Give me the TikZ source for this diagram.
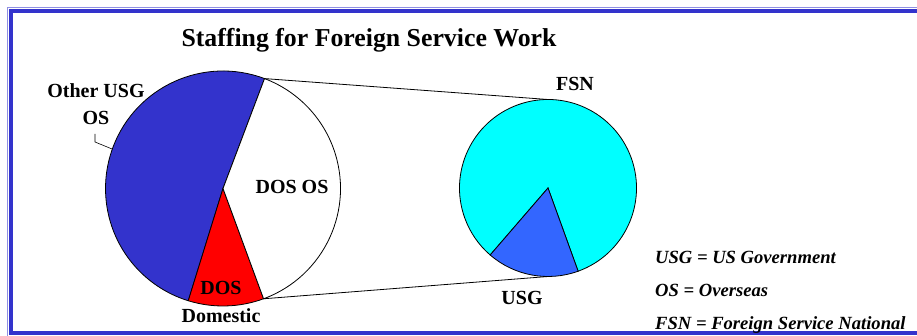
\documentclass[tikz,border=0pt]{standalone}
\usepackage{fontspec}
\setmainfont{Liberation Serif}

\definecolor{frameblue}{HTML}{3333CC}
\definecolor{osblue}{HTML}{3333CC}
\definecolor{domred}{HTML}{FF0000}
\definecolor{fsncyan}{HTML}{00FFFF}
\definecolor{usgblue}{HTML}{3366FF}

\begin{document}
\begin{tikzpicture}[x=1pt,y=1pt,
    slice/.style={draw=black, line width=0.8pt},
    lbl/.style={font=\fontsize{20}{22}\selectfont\bfseries, inner sep=0pt, anchor=base},
    legend/.style={font=\fontsize{18.6}{20}\selectfont\bfseries\itshape, inner sep=0pt, anchor=base west}]
    \useasboundingbox (0,0) rectangle (917,335);

    % Frame
    \draw[frameblue!55, line width=1.2pt] (7.5,-5) rectangle (940,327.5);
    \draw[frameblue, line width=4pt] (11,2) rectangle (940,324);

    % Title
    \node[lbl, font=\fontsize{25.8}{28}\selectfont\bfseries] (title) at (369,288) {Staffing for Foreign Service Work};

    % Left pie
    \coordinate (L) at (223,146.5);
    \filldraw[slice, fill=osblue] (L) -- +(69.3:117.5) arc[start angle=69.3, end angle=252.8, radius=117.5] -- cycle;
    \filldraw[slice, fill=domred] (L) -- +(252.8:117.5) arc[start angle=252.8, end angle=290.2, radius=117.5] -- cycle;
    \filldraw[slice, fill=white] (L) -- +(290.2:117.5) arc[start angle=290.2, end angle=429.3, radius=117.5] -- cycle;
    \path (L) +(69.3:117.5) coordinate (Ltop) +(290.2:117.5) coordinate (Lbot) +(160.4:117.5) coordinate (Ledge);

    % Right pie
    \coordinate (R) at (548,147);
    \filldraw[slice, fill=fsncyan] (R) -- +(289.9:88.5) arc[start angle=289.9, end angle=589.2, radius=88.5] -- cycle;
    \filldraw[slice, fill=usgblue] (R) -- +(229.2:88.5) arc[start angle=229.2, end angle=289.9, radius=88.5] -- cycle;
    \path (R) +(90:88.5) coordinate (Rtop) +(270:88.5) coordinate (Rbot);

    % Connectors between the pies
    \draw[line width=0.8pt] (Ltop) -- (Rtop);
    \draw[line width=0.8pt] (Lbot) -- (Rbot);

    % Slice labels
    \node[lbl] (other) at (96,237) {Other USG};
    \node[lbl] (otheros) at (96,210) {OS};
    \coordinate (lead) at (95,201);
    \draw[line width=0.6pt] (lead) -- ++(0,-8) -- (Ledge);
    \node[lbl] (dosos) at (292,142) {DOS OS};
    \node[lbl] (dos) at (221,41) {DOS};
    \node[lbl] (domestic) at (221,13) {Domestic};
    \node[lbl] (fsn) at (575,244) {FSN};
    \node[lbl] (usg) at (522,31) {USG};

    % Legend
    \node[legend] (leg1) at (655,72) {USG = US Government};
    \node[legend] (leg2) at (655,39) {OS = Overseas};
    \node[legend] (leg3) at (655,6) {FSN = Foreign Service National};
\end{tikzpicture}
\end{document}
